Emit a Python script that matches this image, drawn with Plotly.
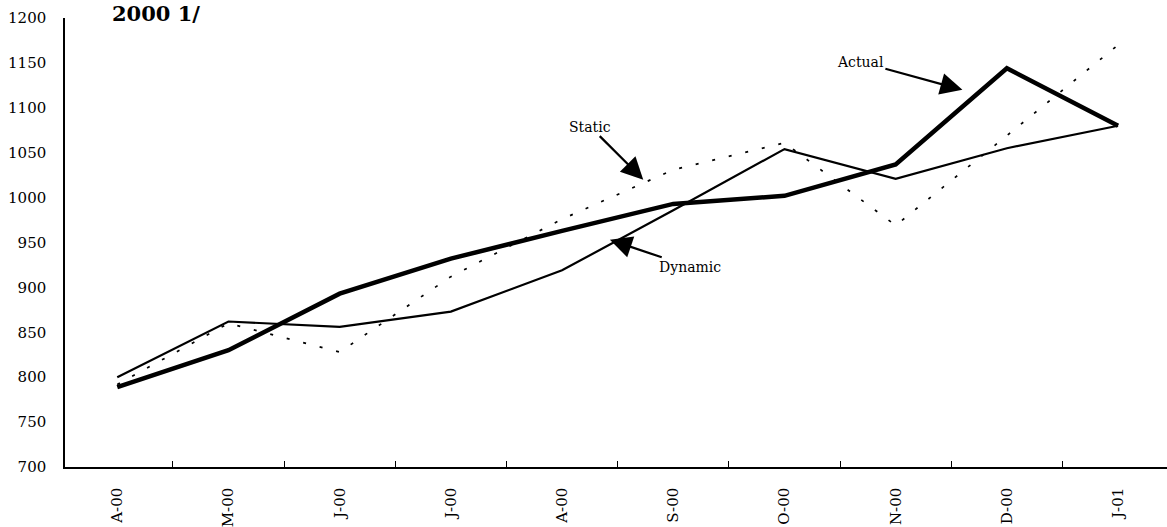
import plotly.graph_objects as go

months = ["A-00", "M-00", "J-00", "J-00", "A-00", "S-00", "O-00", "N-00", "D-00", "J-01"]
actual = [789, 830, 893, 932, 963, 993, 1002, 1037, 1144, 1080]
dynamic = [800, 862, 856, 873, 919, 986, 1054, 1021, 1055, 1080]
static = [792, 860, 828, 912, 976, 1031, 1061, 969, 1069, 1170]
y_ticks = [700, 750, 800, 850, 900, 950, 1000, 1050, 1100, 1150, 1200]

x = list(range(len(months)))
font_family = "DejaVu Serif"

fig = go.Figure()
fig.add_trace(go.Scatter(x=x, y=static, mode="lines", name="Static",
                         line=dict(color="black", width=1.7, dash="3px,14px")))
fig.add_trace(go.Scatter(x=x, y=dynamic, mode="lines", name="Dynamic",
                         line=dict(color="black", width=2.2)))
fig.add_trace(go.Scatter(x=x, y=actual, mode="lines", name="Actual",
                         line=dict(color="black", width=4.5)))

fig.update_layout(
    width=1167, height=527,
    margin=dict(l=65, r=0, t=18, b=60),
    paper_bgcolor="white", plot_bgcolor="white",
    showlegend=False,
    font=dict(family=font_family, color="black", size=14),
)

fig.update_xaxes(
    range=[-0.47, 9.44],
    tickmode="array", tickvals=x, ticktext=months,
    tickangle=-90, ticks="", ticklabelstandoff=13,
    showline=True, linecolor="black", linewidth=1.5,
    showgrid=False, zeroline=False,
    tickfont=dict(family=font_family, size=15, color="black"),
    minor=dict(tickmode="array", tickvals=[i + 0.5 for i in x[:-1]],
               ticks="inside", ticklen=6, tickcolor="black", tickwidth=1.2,
               showgrid=False),
)
fig.update_yaxes(
    range=[700, 1200],
    tickmode="array", tickvals=y_ticks,
    ticks="", ticklabelstandoff=14,
    showline=True, linecolor="black", linewidth=1.5,
    showgrid=False, zeroline=False,
    tickfont=dict(family=font_family, size=15, color="black"),
)

ann_font = dict(family=font_family, size=14, color="black")
arrow_style = dict(showarrow=True, arrowhead=2, arrowsize=2.0, arrowwidth=2.2,
                   arrowcolor="black", font=ann_font, xref="x", yref="y")
fig.add_annotation(text="Static", x=4.73, y=1020, ax=-53, ay=-53, **arrow_style)
fig.add_annotation(text="Dynamic", x=4.43, y=953, ax=80, ay=27, **arrow_style)
fig.add_annotation(text="Actual", x=7.6, y=1120, ax=-102, ay=-28, **arrow_style)

fig.add_annotation(text="<b>2000 1/</b>", xref="paper", yref="paper",
                   x=0.083, y=1.011, xanchor="center", yanchor="middle",
                   showarrow=False,
                   font=dict(family=font_family, size=21, color="black"))

fig.write_html("out.html")
